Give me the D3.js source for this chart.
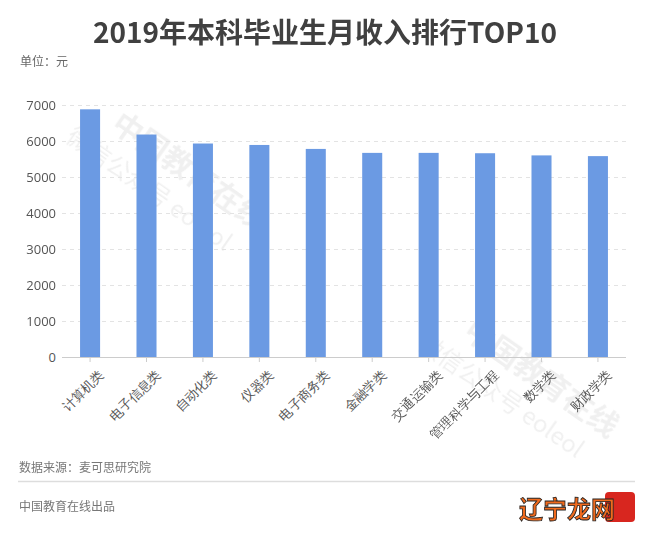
<!DOCTYPE html>
<html>
<head>
<meta charset="utf-8">
<script src="https://cdn.jsdelivr.net/npm/d3@7"></script>
<style>
  html, body { margin: 0; padding: 0; background: #fff; }
  svg { display: block; font-family: "Noto Sans CJK SC", "Noto Sans", sans-serif; }
</style>
</head>
<body>
<svg id="chart" width="650" height="538"></svg>
<script>
const categories = ["计算机类", "电子信息类", "自动化类", "仪器类", "电子商务类", "金融学类", "交通运输类", "管理科学与工程", "数学类", "财政学类"];
const values = [6880, 6180, 5930, 5890, 5780, 5670, 5670, 5660, 5600, 5580];
const yTicks = [0, 1000, 2000, 3000, 4000, 5000, 6000, 7000];
const titleText = "2019年本科毕业生月收入排行TOP10";
const unitText = "单位：元";
const sourceText = "数据来源：麦可思研究院";
const creditText = "中国教育在线出品";

const svg = d3.select("#chart");
const m = { left: 62, right: 626, top: 105, bottom: 357 };

const x = d3.scaleBand().domain(categories).range([m.left, m.right]).paddingInner(0.645).paddingOuter(0.32);
const y = d3.scaleLinear().domain([0, 7000]).range([m.bottom, m.top]);

// watermark (faint)
const wm = svg.append("g").attr("fill", "#000").attr("opacity", 0.06).attr("font-weight", "bold");
[[110, 128], [462, 335]].forEach(([wx, wy]) => {
  const g = wm.append("g").attr("transform", `translate(${wx},${wy}) rotate(35)`);
  g.append("text").attr("x", 0).attr("y", 0).attr("font-size", 30).text("中国教育在线");
  g.append("text").attr("x", -30).attr("y", 36).attr("font-size", 24).attr("font-weight", "normal").text("微信公众号 eoleol");
});

// title
svg.append("text").attr("x", 325).attr("y", 43).attr("text-anchor", "middle")
  .attr("font-size", 28).attr("font-weight", "bold").attr("fill", "#404040").text(titleText);
svg.append("text").attr("x", 20).attr("y", 66).attr("font-size", 12).attr("fill", "#666").text(unitText);

// grid
svg.append("g").selectAll("line").data(yTicks.filter(d => d > 0)).join("line")
  .attr("x1", m.left).attr("x2", m.right)
  .attr("y1", d => y(d) + 0.5).attr("y2", d => y(d) + 0.5)
  .attr("stroke", "#e3e3e3").attr("stroke-dasharray", "4,4");

// y axis
const yAxis = svg.append("g").attr("transform", `translate(${m.left - 6},0)`)
  .call(d3.axisLeft(y).tickValues(yTicks).tickSize(0).tickPadding(0).tickFormat(d3.format("d")));
yAxis.select(".domain").remove();
yAxis.selectAll("text").attr("font-size", 13).attr("fill", "#555")
  .attr("font-family", "'Open Sans', 'Noto Sans', sans-serif");

// bars
svg.append("g").selectAll("rect").data(values).join("rect")
  .attr("x", (d, i) => x(categories[i]))
  .attr("width", x.bandwidth())
  .attr("y", d => y(d))
  .attr("height", d => y(0) - y(d))
  .attr("fill", "#6b9ae3");

// x axis
const xAxis = svg.append("g").attr("transform", `translate(0,${m.bottom})`)
  .call(d3.axisBottom(x).tickSize(5).tickSizeOuter(0).tickPadding(4));
xAxis.select(".domain").attr("stroke", "#ccc").attr("d", `M${m.left},0.5H${m.right}`);
xAxis.selectAll(".tick line").attr("stroke", "#ccc");
xAxis.selectAll("text").attr("font-size", 13).attr("fill", "#555")
  .attr("text-anchor", "end").attr("dy", "0.35em")
  .attr("transform", "translate(5,9) rotate(-45)");

// footer
svg.append("text").attr("x", 19).attr("y", 472).attr("font-size", 12).attr("fill", "#777").text(sourceText);
svg.append("line").attr("x1", 18).attr("x2", 635).attr("y1", 481.5).attr("y2", 481.5).attr("stroke", "#ddd").attr("stroke-width", 1.5);
svg.append("text").attr("x", 19).attr("y", 511).attr("font-size", 12).attr("fill", "#777").text(creditText);

// corner logo
svg.append("rect").attr("x", 605).attr("y", 492).attr("width", 30).attr("height", 30).attr("rx", 4).attr("fill", "#d8261f");
svg.append("text").attr("x", 519).attr("y", 518).attr("font-size", 24).attr("font-weight", "bold")
  .attr("fill", "#f06a1d").attr("stroke", "#222").attr("stroke-width", 0.8).text("辽宁龙网");
</script>
</body>
</html>
